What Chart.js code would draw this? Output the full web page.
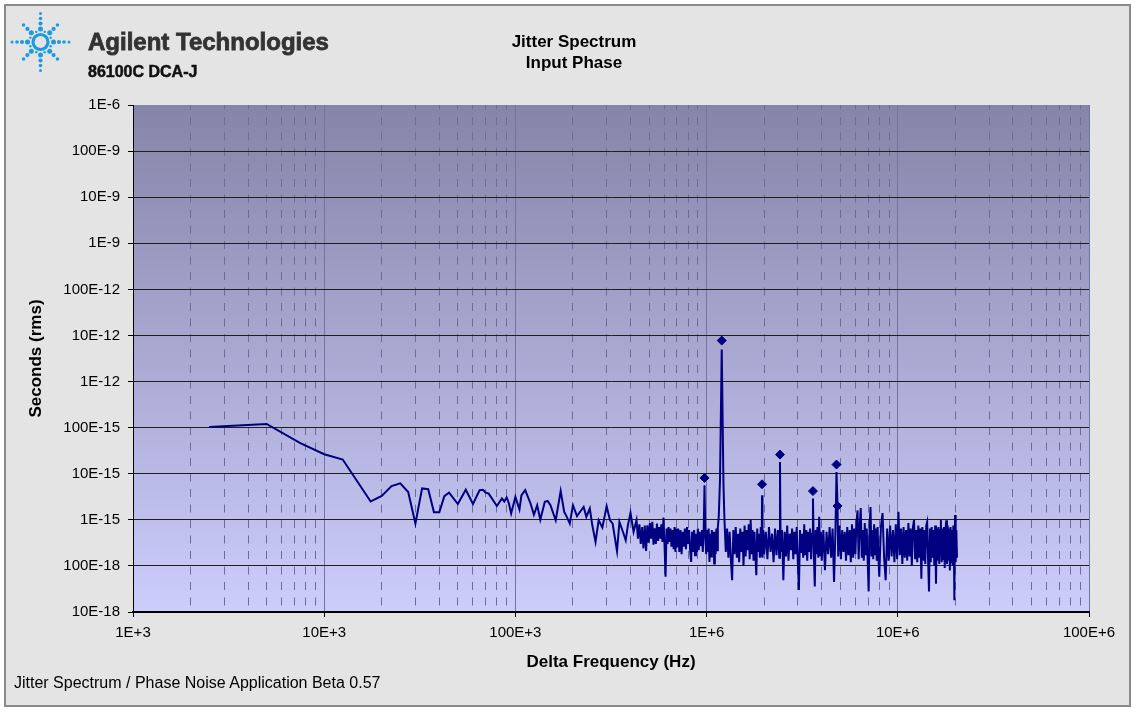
<!DOCTYPE html>
<html>
<head>
<meta charset="utf-8">
<title>Jitter Spectrum</title>
<script src="https://cdn.jsdelivr.net/npm/chart.js@4/dist/chart.umd.min.js"></script>
<style>
  html, body { margin: 0; padding: 0; background: #fff; }
  #wrap { position: relative; width: 1135px; height: 711px; overflow: hidden;
          font-family: 'Liberation Sans', Arial, sans-serif; }
  #frame { position: absolute; left: 4px; top: 4px; width: 1123px; height: 699px;
           border: 2px solid #8a8a8a; background: #e4e4e4; }
  #chart { position: absolute; left: 0; top: 0; }
  .txt { position: absolute; white-space: nowrap; }
  #brand { left: 88px; top: 30px; font-size: 24px; line-height: 24px; font-weight: bold;
           color: #333; -webkit-text-stroke: 0.8px #333; }
  #model { left: 88px; top: 64px; font-size: 16px; line-height: 16px; font-weight: bold;
           color: #111; -webkit-text-stroke: 0.5px #111; }
  #title { left: 474px; top: 31px; width: 200px; text-align: center; font-size: 17px;
           line-height: 21px; font-weight: bold; color: #000; }
  #footer { left: 14px; top: 674px; font-size: 16px; line-height: 18px; color: #000; }
  #logo { position: absolute; left: 0; top: 0; }
</style>
</head>
<body>
<div id="wrap">
  <div id="frame"></div>
  <canvas id="chart" width="1135" height="711"></canvas>
  <svg id="logo" width="80" height="80"></svg>
  <div class="txt" id="brand">Agilent Technologies</div>
  <div class="txt" id="model">86100C DCA-J</div>
  <div class="txt" id="title">Jitter Spectrum<br>Input Phase</div>
  <div class="txt" id="footer">Jitter Spectrum / Phase Noise Application Beta 0.57</div>
</div>
<script>
// axis ticks
const xTickValues = [1e3, 1e4, 1e5, 1e6, 1e7, 1e8];
const xTickLabels = ['1E+3', '10E+3', '100E+3', '1E+6', '10E+6', '100E+6'];
const yTickValues = [1e-17, 1e-16, 1e-15, 1e-14, 1e-13, 1e-12, 1e-11, 1e-10, 1e-9, 1e-8, 1e-7, 1e-6];
const yTickLabels = ['10E-18', '100E-18', '1E-15', '10E-15', '100E-15', '1E-12',
                     '10E-12', '100E-12', '1E-9', '10E-9', '100E-9', '1E-6'];

// jitter spectrum, low offsets (Hz / seconds rms)
const freqLow = [
  2500, 5000, 7500, 10000, 12500, 17500, 20000, 22500, 25000, 27500,
  30000, 32500, 35000, 37500, 40000, 42500, 45000, 50000, 55000, 60000,
  65000, 67500, 70000, 72500, 80000, 85000, 87500, 90000, 92500, 95000,
  100000, 105000, 107500, 112500, 120000, 125000, 130000, 135000, 142500, 147500,
  152500, 162500, 172500, 180000, 185000, 192500, 200000, 210000, 217500, 227500,
  235000, 245000, 252500, 262500, 272500, 285000, 292500, 300000, 312500, 322500,
  340000, 350000, 365000, 377500, 387500, 400000, 415000, 430000, 437500, 445000,
  452500, 460000, 467500, 475000, 482500, 490000, 497500, 505000, 512500, 520000,
  527500, 535000, 542500, 550000, 557500, 565000, 572500, 580000, 587500, 595000,
  602500, 610000, 617500, 625000, 632500, 640000, 647500, 655000, 665000, 672500,
  680000, 687500, 695000, 702500, 710000, 720000, 730000, 740000, 750000, 760000,
  770000, 780000, 790000, 800000, 810000, 820000, 830000, 840000, 850000, 860000,
  870000, 880000, 890000, 900000, 910000, 920000, 935000, 945000, 955000, 965000,
  975000, 985000, 995000, 1005000, 1015000, 1025000, 1035000, 1045000, 1055000, 1065000,
  1075000, 1085000, 1095000, 1105000, 1115000, 1125000, 1135000, 1145000, 1157500, 1175000,
  1200000, 1225000, 1240000
];
const jitterLow = [
  1.03e-13, 1.2e-13, 4.6e-14, 2.65e-14, 2.03e-14, 2.5e-15, 3.3e-15, 5.4e-15, 6.2e-15, 4.0e-15,
  8.3e-16, 4.8e-15, 4.6e-15, 1.46e-15, 1.46e-15, 3.25e-15, 3.9e-15, 2.2e-15, 4.5e-15, 2.2e-15,
  4.4e-15, 4.5e-15, 3.9e-15, 3.7e-15, 2.0e-15, 2.9e-15, 2.5e-15, 3.05e-15, 2.26e-15, 1.37e-15,
  3.14e-15, 1.67e-15, 3.4e-15, 4.4e-15, 2.26e-15, 1.29e-15, 2.07e-15, 1.0e-15, 2.47e-15, 2.57e-15,
  2.07e-15, 9.8e-16, 4.2e-15, 1.48e-15, 1.2e-15, 8.3e-16, 2.07e-15, 1.2e-15, 1.48e-15, 1.9e-15,
  1.16e-15, 1.76e-15, 7.6e-16, 3.3e-16, 9.8e-16, 6.8e-16, 1.16e-15, 1.97e-15, 9.8e-16, 8.3e-16,
  2.1e-16, 9.0e-16, 5.5e-16, 3.6e-16, 7.6e-16, 1.41e-15, 5.5e-16, 9.8e-16, 3.9e-16, 8.0e-16,
  3.0e-16, 7.0e-16, 2.4e-16, 7.5e-16, 2.1e-16, 7.6e-16, 3.2e-16, 8.5e-16, 3.9e-16, 9.0e-16,
  2.9e-16, 6.5e-16, 3.0e-16, 8.3e-16, 3.5e-16, 7.0e-16, 3.9e-16, 8.0e-16, 3.3e-16, 1.12e-15,
  2.8e-16, 5.8e-17, 6.5e-16, 3.0e-16, 7.0e-16, 3.3e-16, 6.5e-16, 2.6e-16, 6.0e-16, 2.3e-16,
  7.0e-16, 2.0e-16, 6.5e-16, 2.5e-16, 6.5e-16, 2.0e-16, 6.0e-16, 1.8e-16, 5.5e-16, 2.6e-16,
  6.5e-16, 2.3e-16, 7.0e-16, 3.0e-16, 6.0e-16, 2.2e-16, 1.22e-16, 5.5e-16, 2.0e-16, 6.0e-16,
  1.7e-16, 5.0e-16, 2.0e-16, 6.5e-16, 2.2e-16, 5.5e-16, 2.8e-16, 6.0e-16, 2.0e-16, 5.0e-16,
  5.6e-15, 5.0e-16, 1.8e-16, 6.0e-16, 2.0e-16, 6.5e-16, 1.22e-16, 5.0e-16, 1.6e-16, 6.0e-16,
  2.0e-16, 5.5e-16, 1.13e-16, 5.5e-16, 1.8e-16, 6.5e-16, 2.2e-16, 7.0e-16, 1.16e-15, 7.2e-15,
  4.94e-12, 6.2e-15, 1.0e-15
];

// jitter spectrum, high offsets (noise floor with spurs)
const freqHigh = [
  1.26e6, 1.28e6, 1.30e6, 1.32e6, 1.34e6, 1.36e6, 1.38e6, 1.40e6, 1.42e6, 1.44e6,
  1.46e6, 1.48e6, 1.50e6, 1.52e6, 1.54e6, 1.56e6, 1.58e6, 1.60e6, 1.62e6, 1.64e6,
  1.66e6, 1.68e6, 1.70e6, 1.72e6, 1.74e6, 1.76e6, 1.78e6, 1.80e6, 1.82e6, 1.84e6,
  1.86e6, 1.88e6, 1.90e6, 1.92e6, 1.94e6, 1.95e6, 1.96e6, 1.98e6, 2.00e6, 2.04e6,
  2.08e6, 2.12e6, 2.16e6, 2.20e6, 2.24e6, 2.28e6, 2.32e6, 2.36e6, 2.40e6, 2.42e6,
  2.44e6, 2.48e6, 2.52e6, 2.56e6, 2.60e6, 2.64e6, 2.68e6, 2.72e6, 2.76e6, 2.80e6,
  2.84e6, 2.88e6, 2.92e6, 2.96e6, 3.00e6, 3.04e6, 3.08e6, 3.12e6, 3.16e6, 3.20e6,
  3.24e6, 3.28e6, 3.32e6, 3.36e6, 3.40e6, 3.44e6, 3.48e6, 3.52e6, 3.56e6, 3.60e6,
  3.64e6, 3.68e6, 3.72e6, 3.76e6, 3.80e6, 3.84e6, 3.88e6, 3.92e6, 3.96e6, 4.00e6,
  4.08e6, 4.16e6, 4.24e6, 4.32e6, 4.40e6, 4.48e6, 4.56e6, 4.64e6, 4.72e6, 4.78e6,
  4.84e6, 4.88e6, 4.96e6, 5.04e6, 5.12e6, 5.20e6, 5.28e6, 5.36e6, 5.44e6, 5.52e6,
  5.60e6, 5.68e6, 5.76e6, 5.84e6, 5.92e6, 6.00e6, 6.08e6, 6.16e6, 6.24e6, 6.32e6,
  6.40e6, 6.48e6, 6.56e6, 6.64e6, 6.72e6, 6.80e6, 6.88e6, 6.96e6, 7.04e6, 7.12e6,
  7.20e6, 7.28e6, 7.36e6, 7.44e6, 7.52e6, 7.60e6, 7.68e6, 7.76e6, 7.84e6, 7.92e6,
  8.00e6, 8.16e6, 8.32e6, 8.48e6, 8.64e6, 8.80e6, 8.96e6, 9.12e6, 9.28e6, 9.44e6,
  9.60e6, 9.76e6, 9.92e6, 10.08e6, 10.24e6, 10.40e6, 10.56e6, 10.72e6, 10.88e6, 11.04e6,
  11.20e6, 11.36e6, 11.52e6, 11.68e6, 11.84e6, 12.00e6, 12.16e6, 12.32e6, 12.48e6, 12.64e6,
  12.80e6, 12.96e6, 13.12e6, 13.28e6, 13.44e6, 13.60e6, 13.76e6, 13.92e6, 14.08e6, 14.24e6,
  14.40e6, 14.56e6, 14.72e6, 14.88e6, 15.04e6, 15.20e6, 15.36e6, 15.52e6, 15.68e6, 15.84e6,
  16.00e6, 16.16e6, 16.32e6, 16.48e6, 16.64e6, 16.80e6, 16.96e6, 17.12e6, 17.28e6, 17.44e6,
  17.60e6, 17.76e6, 17.92e6, 18.08e6, 18.24e6, 18.40e6, 18.56e6, 18.72e6, 18.88e6, 19.04e6,
  19.20e6, 19.36e6, 19.52e6, 19.68e6, 19.76e6, 19.92e6, 20.08e6, 20.24e6, 20.40e6
];
const jitterHigh = [
  2.0e-16, 6.5e-16, 1.5e-16, 5.5e-16, 1.3e-16, 4.9e-17, 6.0e-16, 1.8e-16, 7.0e-16, 1.5e-16,
  5.0e-16, 1.2e-16, 6.5e-16, 2.0e-16, 5.5e-16, 1.0e-16, 7.5e-16, 1.6e-16, 6.0e-16, 2.2e-16,
  8.0e-16, 1.4e-16, 1.0e-15, 1.8e-16, 6.0e-16, 1.3e-16, 5.5e-16, 1.7e-16, 6.3e-17, 6.5e-16,
  2.0e-16, 5.0e-16, 1.5e-16, 7.0e-16, 1.6e-16, 3.4e-15, 1.5e-16, 6.0e-16, 1.8e-16, 5.5e-16,
  1.4e-16, 7.0e-16, 2.0e-16, 5.0e-16, 1.2e-16, 6.5e-16, 1.7e-16, 6.0e-16, 1.5e-16, 1.8e-14,
  2.0e-16, 6.0e-16, 4.9e-17, 5.5e-16, 1.6e-16, 7.5e-16, 1.3e-16, 5.0e-16, 2.2e-16, 6.5e-16,
  1.4e-16, 5.5e-16, 1.8e-16, 7.0e-16, 1.2e-16, 3.0e-17, 6.0e-16, 1.9e-16, 5.0e-16, 1.5e-16,
  8.0e-16, 1.7e-16, 6.0e-16, 1.3e-16, 5.5e-16, 2.0e-16, 6.5e-16, 1.4e-16, 5.0e-16, 2.9e-15,
  1.6e-16, 3.6e-17, 6.0e-16, 1.8e-16, 7.0e-16, 1.5e-16, 1.16e-15, 1.7e-16, 5.5e-16, 1.3e-16,
  6.0e-16, 8.1e-17, 5.5e-16, 1.8e-16, 7.0e-16, 1.5e-16, 6.5e-16, 4.5e-17, 6.0e-16, 1.09e-14,
  2.0e-15, 1.6e-16, 7.5e-16, 1.4e-16, 6.0e-16, 2.0e-16, 5.5e-16, 1.3e-16, 7.0e-16, 1.7e-16,
  6.0e-16, 1.2e-16, 8.0e-16, 1.5e-16, 6.5e-16, 1.8e-16, 9.0e-16, 1.6e-15, 1.4e-16, 7.0e-16,
  1.8e-15, 1.5e-16, 6.0e-16, 1.3e-16, 8.5e-16, 1.7e-16, 6.5e-16, 1.2e-16, 2.8e-17, 7.0e-16,
  1.9e-15, 1.6e-16, 6.0e-16, 1.4e-16, 8.0e-16, 1.8e-16, 6.5e-16, 1.3e-16, 7.0e-16, 1.5e-16,
  5.8e-17, 7.0e-16, 1.4e-15, 1.5e-16, 4.9e-17, 6.5e-16, 1.3e-16, 7.5e-16, 1.6e-16, 6.0e-16,
  1.2e-16, 8.0e-16, 1.4e-16, 1.5e-15, 1.7e-16, 6.5e-16, 1.1e-16, 7.0e-16, 1.5e-16, 6.0e-16,
  1.3e-16, 8.5e-16, 1.6e-16, 6.5e-16, 1.0e-16, 7.0e-16, 1.0e-15, 1.4e-16, 6.0e-16, 1.2e-16,
  7.5e-16, 1.5e-16, 6.5e-16, 5.3e-17, 7.0e-16, 1.3e-16, 6.0e-16, 1.1e-16, 7.5e-16, 9.0e-16,
  1.4e-16, 2.8e-17, 6.5e-16, 1.2e-16, 7.0e-16, 1.5e-16, 6.0e-16, 1.0e-16, 7.5e-16, 4.1e-17,
  6.5e-16, 1.3e-16, 7.0e-16, 1.1e-16, 6.0e-16, 1.0e-15, 1.2e-16, 6.5e-16, 1.4e-16, 7.0e-16,
  9.0e-17, 6.0e-16, 9.8e-16, 1.1e-16, 7.5e-16, 1.3e-16, 6.5e-16, 8.0e-17, 7.0e-16, 1.2e-16,
  6.0e-16, 1.0e-16, 7.5e-16, 1.3e-16, 1.8e-17, 1.27e-15, 1.2e-16, 6.0e-16, 1.5e-16
];

// marked spurs
const spurFreqHz = [975000, 1.2e6, 1.95e6, 2.42e6, 3.6e6, 4.78e6, 4.84e6];
const spurJitterS = [8.1e-15, 7.75e-12, 5.9e-15, 2.6e-14, 4.2e-15, 1.58e-14, 2.0e-15];

const freqHz = freqLow.concat(freqHigh);
const jitterS = jitterLow.concat(jitterHigh);

// minor decade lines 2..9 for the dashed grid
const xMinorValues = [];
for (let d = 1e3; d < 1e8; d *= 10) {
  for (let k = 2; k <= 9; k++) xMinorValues.push(k * d);
}

// agilent spark logo (decoration)
(function () {
  const svg = document.getElementById('logo');
  const ns = 'http://www.w3.org/2000/svg';
  const cx = 40.5, cy = 42;
  function dot(x, y, r) {
    const c = document.createElementNS(ns, 'circle');
    c.setAttribute('cx', x); c.setAttribute('cy', y); c.setAttribute('r', r);
    c.setAttribute('fill', '#1c9be0');
    svg.appendChild(c);
  }
  const ring = document.createElementNS(ns, 'circle');
  ring.setAttribute('cx', cx); ring.setAttribute('cy', cy); ring.setAttribute('r', 7.5);
  ring.setAttribute('fill', 'none'); ring.setAttribute('stroke', '#1c9be0');
  ring.setAttribute('stroke-width', 3.2);
  svg.appendChild(ring);
  for (let k = 0; k < 8; k++) {
    const a = k * Math.PI / 4;
    const diag = k % 2 === 1;
    const dist = diag ? [13, 18.5, 24] : [13, 18.5, 23.5, 28.5];
    const size = [2.5, 2.1, 1.8, 1.5];
    dist.forEach((r, i) => dot(cx + r * Math.cos(a), cy + r * Math.sin(a), size[i]));
    const b = a + Math.PI / 8;
    dot(cx + 11 * Math.cos(b), cy + 11 * Math.sin(b), 1.2);
  }
})();

const plotBackground = {
  id: 'plotBackground',
  beforeDraw(chart) {
    const { ctx, chartArea: a } = chart;
    const g = ctx.createLinearGradient(0, a.top, 0, a.bottom);
    g.addColorStop(0, '#8585a9');
    g.addColorStop(1, '#cdcdfc');
    ctx.save();
    ctx.fillStyle = g;
    ctx.fillRect(a.left, a.top, a.right - a.left, a.bottom - a.top);
    ctx.restore();
  }
};

Chart.defaults.font.family = "'Liberation Sans', Arial, sans-serif";
Chart.defaults.color = '#000';

new Chart(document.getElementById('chart'), {
  type: 'scatter',
  data: {
    datasets: [
      {
        label: 'Spurs',
        data: spurFreqHz.map((f, i) => ({ x: f, y: spurJitterS[i] })),
        showLine: false,
        pointStyle: 'rectRot',
        pointRadius: 4.5,
        pointBorderWidth: 1,
        backgroundColor: '#000080',
        borderColor: '#000080',
        order: 0
      },
      {
        label: 'Seconds (rms)',
        data: freqHz.map((f, i) => ({ x: f, y: jitterS[i] })),
        showLine: true,
        borderColor: '#000080',
        borderWidth: 2,
        pointRadius: 0,
        tension: 0,
        order: 1
      }
    ]
  },
  options: {
    responsive: false,
    animation: false,
    devicePixelRatio: 1,
    layout: { padding: { top: 105, right: 46, bottom: 0, left: 0 } },
    plugins: { legend: { display: false }, tooltip: { enabled: false } },
    scales: {
      x: {
        type: 'logarithmic',
        position: 'bottom',
        min: 1e3,
        max: 1e8,
        afterBuildTicks: s => { s.ticks = xTickValues.map(v => ({ value: v })); },
        afterFit: s => { s.height = 99; },
        ticks: {
          autoSkip: false, maxRotation: 0, padding: 7, font: { size: 15 },
          callback: (v, i) => xTickLabels[i]
        },
        grid: { color: '#7474a2', lineWidth: 1, tickLength: 5, tickColor: '#000' },
        border: { color: '#000', width: 2 },
        title: {
          display: true, text: 'Delta Frequency (Hz)',
          font: { size: 17, weight: 'bold' }, padding: { top: 0, bottom: 38 }
        }
      },
      xMinor: {
        type: 'logarithmic',
        position: 'bottom',
        min: 1e3,
        max: 1e8,
        afterBuildTicks: s => { s.ticks = xMinorValues.map(v => ({ value: v })); },
        afterFit: s => { s.height = 0; },
        ticks: { display: false },
        grid: { color: '#6c6c98', lineWidth: 1, drawTicks: false },
        border: { display: false, dash: [8, 7.5], dashOffset: 3.5 }
      },
      y: {
        type: 'logarithmic',
        position: 'left',
        min: 1e-17,
        max: 1e-6,
        afterBuildTicks: s => { s.ticks = yTickValues.map(v => ({ value: v })); },
        afterFit: s => { s.width = 133; },
        ticks: {
          autoSkip: false, padding: 8, font: { size: 15 },
          callback: (v, i) => yTickLabels[i]
        },
        grid: {
          color: c => (c.index === yTickValues.length - 1 ? 'rgba(0,0,0,0)' : '#1e1e1e'),
          lineWidth: 1, tickLength: 5, tickColor: '#000'
        },
        border: { color: '#000', width: 1 },
        title: {
          display: true, text: 'Seconds (rms)',
          font: { size: 17, weight: 'bold' }, padding: { top: 26, bottom: 0 }
        }
      }
    }
  },
  plugins: [plotBackground]
});
</script>
</body>
</html>
